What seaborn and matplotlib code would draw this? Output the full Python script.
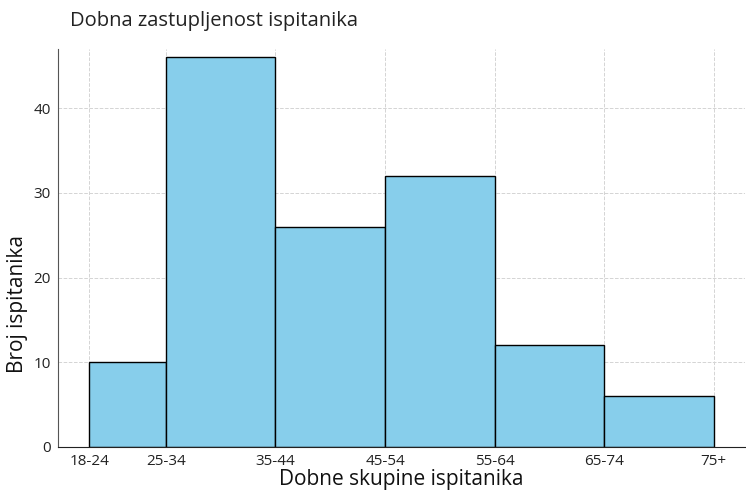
import matplotlib
matplotlib.use('Agg')
import matplotlib.pyplot as plt
import seaborn as sns
import numpy as np

bin_edges = [18, 25, 35, 45, 55, 65, 75]
tick_labels = ['18-24', '25-34', '35-44', '45-54', '55-64', '65-74', '75+']
counts = [10, 46, 26, 32, 12, 6]

sns.set_style('white')
plt.rcParams['font.family'] = ['Open Sans', 'DejaVu Sans']

fig = plt.figure(figsize=(7.46, 4.93), dpi=100)
ax = fig.add_axes([58 / 746, 46 / 493, 687 / 746, 398 / 493])

sns.histplot(x=bin_edges[:-1], weights=counts, bins=bin_edges, color='#87CEEB',
             edgecolor='black', linewidth=1, alpha=1, ax=ax)

ax.set_ylim(0, 47)
ax.set_xticks(bin_edges)
ax.set_xticklabels(tick_labels)
ax.set_yticks([0, 10, 20, 30, 40])
ax.tick_params(labelsize=11, colors='#222222', length=3, pad=2)
ax.grid(True, linestyle='--', color='#d4d4d4', linewidth=0.7)
ax.set_axisbelow(True)

for s in ['top', 'right']:
    ax.spines[s].set_visible(False)
ax.spines['left'].set_color('#555555')
ax.spines['bottom'].set_color('#222222')

ax.set_xlabel('Dobne skupine ispitanika', fontsize=15, labelpad=0, color='#111111')
ax.set_ylabel('Broj ispitanika', fontsize=15, color='#111111')
ax.yaxis.set_label_coords(-0.043, 0.36)
fig.text(70 / 746, 1 - 21 / 493, 'Dobna zastupljenost ispitanika', fontsize=14.5,
         ha='left', va='center', color='#222222')

plt.savefig('out.png', dpi=100)
plt.close()
